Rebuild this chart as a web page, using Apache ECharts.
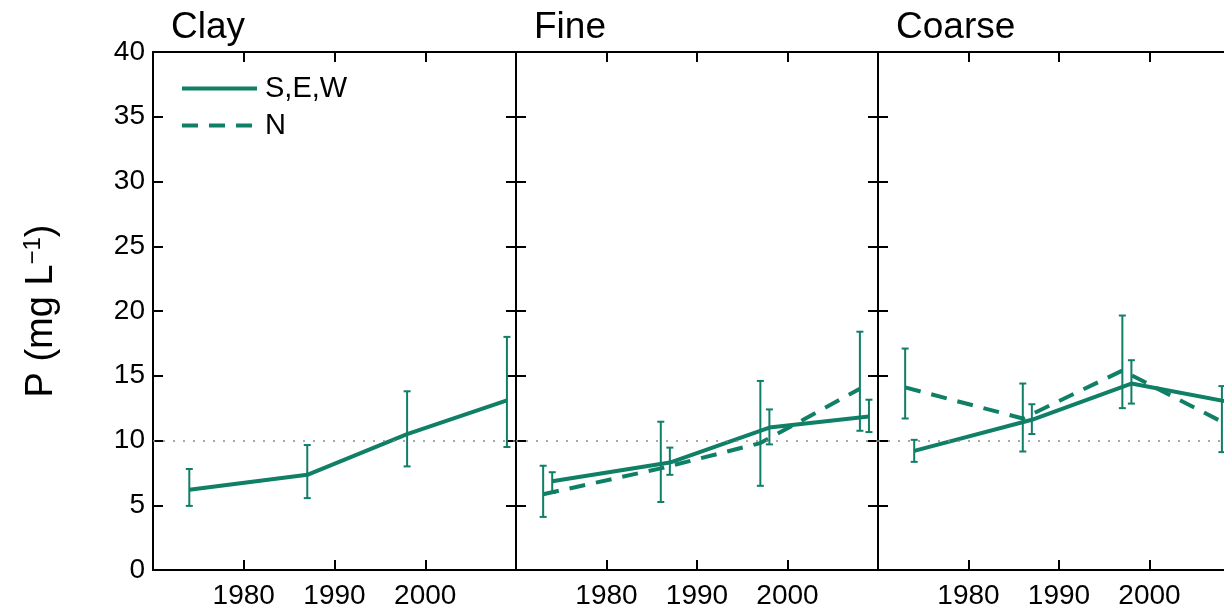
<!DOCTYPE html>
<html>
<head>
<meta charset="utf-8">
<title>P (mg L-1) by soil texture</title>
<script src="https://cdn.jsdelivr.net/npm/echarts@6/dist/echarts.min.js"></script>
<style>
  html, body { margin: 0; padding: 0; background: #fff; }
  #chart { width: 1224px; height: 611px; }
</style>
</head>
<body>
<div id="chart"></div>
<script>
// panel names
const panels = ['Clay', 'Fine', 'Coarse'];
const yTicks = [0, 5, 10, 15, 20, 25, 30, 35, 40];
const xTicks = [1980, 1990, 2000];

// S,E,W (solid)
const sewYears = [1974, 1987, 1998, 2009];
const claySew = [6.2, 7.35, 10.5, 13.1];
const claySewLow = [4.95, 5.55, 8.0, 9.5];
const claySewHigh = [7.8, 9.65, 13.8, 18.0];

const fineSew = [6.85, 8.3, 11.0, 11.85];
const fineSewLow = [5.95, 7.35, 9.7, 10.65];
const fineSewHigh = [7.55, 9.45, 12.4, 13.15];

const coarseSew = [9.2, 11.6, 14.4, 12.95];
const coarseSewLow = [8.35, 10.5, 12.85, 11.6];
const coarseSewHigh = [10.05, 12.8, 16.2, 14.3];

// N (dashed) - no clay data
const nYears = [1973, 1986, 1997, 2008];
const fineN = [5.85, 7.85, 9.8, 14.0];
const fineNLow = [4.1, 5.25, 6.5, 10.75];
const fineNHigh = [8.05, 11.45, 14.6, 18.4];

const coarseN = [14.1, 11.7, 15.4, 11.45];
const coarseNLow = [11.7, 9.15, 12.5, 9.1];
const coarseNHigh = [17.1, 14.4, 19.65, 14.2];

const refLevel = 10;

const green = '#0f7f66';
const gridLefts = [153, 516, 878];
const gridWidths = [363, 362, 362]; // last panel runs past the right edge

function pairs(xs, ys) {
  return xs.map((x, i) => [x, ys[i]]);
}
function bars(xs, lo, hi) {
  return xs.map((x, i) => [x, lo[i], hi[i]]);
}

function renderErr(params, api) {
  const x = api.value(0);
  const top = api.coord([x, api.value(2)]);
  const bot = api.coord([x, api.value(1)]);
  const c = 3.5;
  const style = { stroke: green, lineWidth: 2 };
  return {
    type: 'group',
    children: [
      { type: 'line', shape: { x1: top[0], y1: top[1], x2: bot[0], y2: bot[1] }, style },
      { type: 'line', shape: { x1: top[0] - c, y1: top[1], x2: top[0] + c, y2: top[1] }, style },
      { type: 'line', shape: { x1: bot[0] - c, y1: bot[1], x2: bot[0] + c, y2: bot[1] }, style }
    ]
  };
}

const grids = [], xAxes = [], yAxes = [], series = [], titles = [];
// onZero off, otherwise the top x axis sits on y=0
const axisLine = () => ({ show: true, onZero: false, lineStyle: { color: '#000', width: 2 } });
const axisTick = () => ({ show: true, inside: true, length: 10, lineStyle: { color: '#000', width: 2 } });

panels.forEach((name, p) => {
  grids.push({ left: gridLefts[p], top: 52, width: gridWidths[p], height: 518, outerBoundsMode: 'none' });
  titles.push({
    text: name, left: gridLefts[p] + 18, top: 9, padding: 0,
    textStyle: { fontSize: 37, fontWeight: 'normal', color: '#000', fontFamily: 'Liberation Sans' }
  });
  // bottom and top x axes
  ['bottom', 'top'].forEach(pos => {
    xAxes.push({
      type: 'value', gridIndex: p, position: pos, min: 1970, max: 2010, interval: 10,
      axisLine: axisLine(), axisTick: axisTick(), splitLine: { show: false },
      axisLabel: {
        show: pos === 'bottom', showMinLabel: false, showMaxLabel: false,
        fontSize: 28, color: '#000', margin: 12,
        formatter: v => (xTicks.indexOf(v) >= 0 ? String(v) : '')
      }
    });
  });
  // left and right y axes
  ['left', 'right'].forEach(pos => {
    const y = {
      type: 'value', gridIndex: p, position: pos, min: yTicks[0], max: yTicks[yTicks.length - 1], interval: 5,
      axisLine: axisLine(), axisTick: axisTick(), splitLine: { show: false },
      axisLabel: { show: p === 0 && pos === 'left', fontSize: 28, color: '#000', margin: 8 }
    };
    if (p === 0 && pos === 'left') {
      y.name = 'P (mg L{sup|−1})';
      y.nameLocation = 'middle';
      y.nameRotate = 90;
      y.nameGap = 90;
      y.nameTextStyle = {
        fontSize: 38, color: '#000', fontFamily: 'Liberation Sans',
        rich: { sup: { fontSize: 24, color: '#000', verticalAlign: 'bottom', padding: [0, 0, 18, 0], fontFamily: 'Liberation Sans' } }
      };
    }
    yAxes.push(y);
  });
});

const ax = p => ({ xAxisIndex: p * 2, yAxisIndex: p * 2 });

function addPanel(p, sewVals, sewLo, sewHi, nVals, nLo, nHi) {
  series.push(Object.assign({
    name: 'S,E,W', type: 'line', data: pairs(sewYears, sewVals),
    symbol: 'none', lineStyle: { color: green, width: 4 }, itemStyle: { color: green },
    z: 3,
    markLine: {
      silent: true, symbol: 'none', label: { show: false },
      lineStyle: { color: '#8a8a8a', type: [2, 8], width: 1.5 },
      data: [{ yAxis: refLevel }]
    }
  }, ax(p)));
  series.push(Object.assign({
    name: 'err-sew-' + p, type: 'custom', renderItem: renderErr,
    data: bars(sewYears, sewLo, sewHi), z: 4
  }, ax(p)));
  if (nVals) {
    series.push(Object.assign({
      name: 'N', type: 'line', data: pairs(nYears, nVals),
      symbol: 'none', lineStyle: { color: green, width: 4, type: [16, 11] }, itemStyle: { color: green },
      z: 3
    }, ax(p)));
    series.push(Object.assign({
      name: 'err-n-' + p, type: 'custom', renderItem: renderErr,
      data: bars(nYears, nLo, nHi), z: 4
    }, ax(p)));
  }
}

addPanel(0, claySew, claySewLow, claySewHigh);
addPanel(1, fineSew, fineSewLow, fineSewHigh, fineN, fineNLow, fineNHigh);
addPanel(2, coarseSew, coarseSewLow, coarseSewHigh, coarseN, coarseNLow, coarseNHigh);

const option = {
  animation: false,
  backgroundColor: '#fff',
  textStyle: { fontFamily: 'Liberation Sans' },
  title: titles,
  legend: {
    data: ['S,E,W', 'N'], orient: 'vertical', left: 180, top: 74, padding: 0,
    itemWidth: 75, itemHeight: 14, itemGap: 8,
    itemStyle: { opacity: 0 },
    lineStyle: { width: 4 },
    textStyle: { fontSize: 29, color: '#000', padding: [0, 0, 0, 3] }
  },
  grid: grids,
  xAxis: xAxes,
  yAxis: yAxes,
  series: series
};

const chart = echarts.init(document.getElementById('chart'));
chart.setOption(option);
window.onresize = function () {
  chart.resize();
};
</script>
</body>
</html>
